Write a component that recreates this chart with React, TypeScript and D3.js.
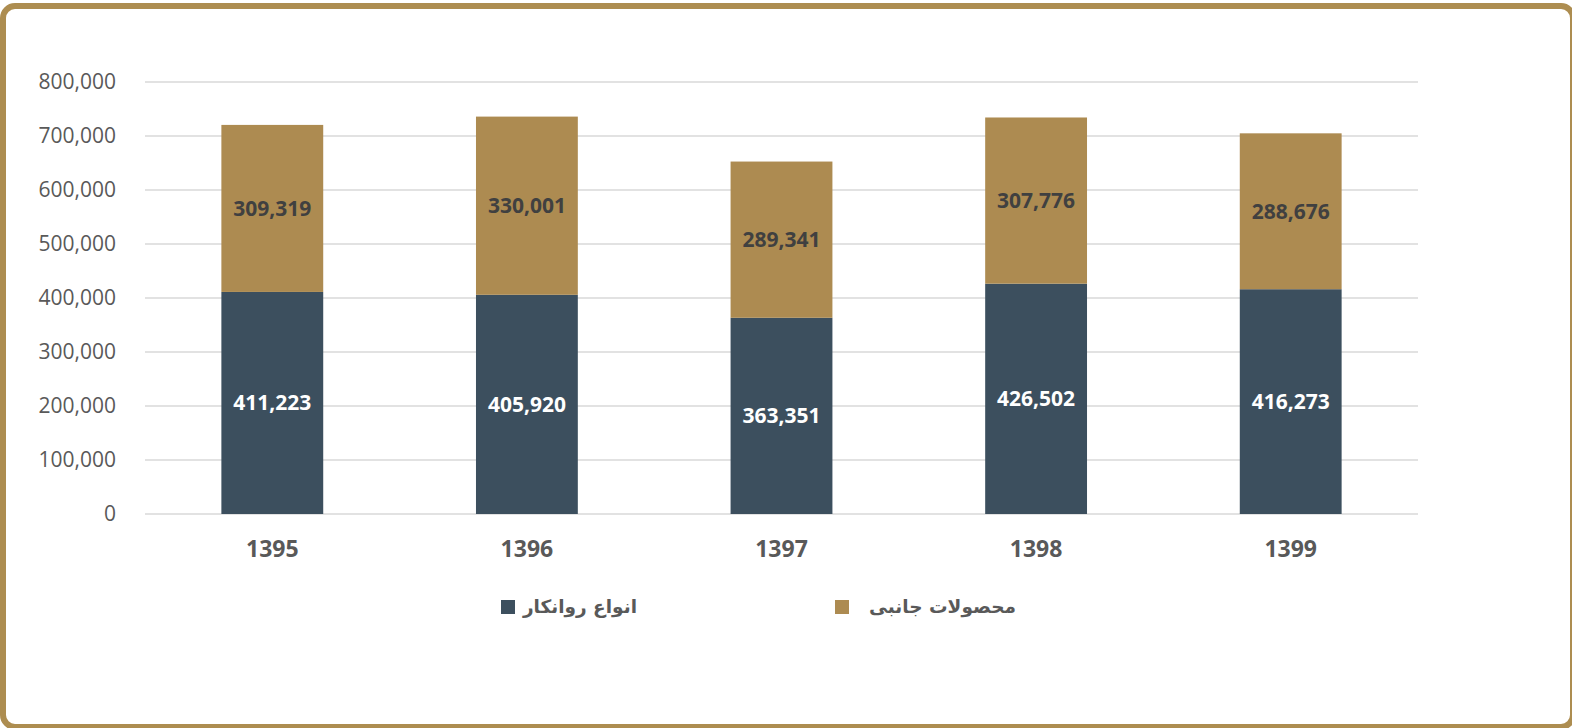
import React from "react";
import * as d3 from "d3";

const categories = ["1395", "1396", "1397", "1398", "1399"];
const lubricants = [411223, 405920, 363351, 426502, 416273];
const byproducts = [309319, 330001, 289341, 307776, 288676];
const yTicks = [0, 100000, 200000, 300000, 400000, 500000, 600000, 700000, 800000];
const seriesNames = ["انواع روانکار", "محصولات جانبی"];

const W = 1572;
const H = 728;
const DARK = "#3C4F5E";
const GOLD = "#AD8B51";
const BORDER = "#AD8D50";

export default function App() {
  const x = d3.scaleBand<string>().domain(categories).range([145, 1418]).paddingInner(0.6).paddingOuter(0.3);
  const y = d3.scaleLinear().domain([0, 800000]).range([514, 82]);
  const fmt = d3.format(",");
  const font = "'Open Sans', 'Segoe UI', sans-serif";
  return (
    <svg width={W} height={H} style={{ position: "absolute", left: 0, top: 0 }}>
      <rect x={0} y={0} width={W} height={H} fill="#ffffff" />
      <rect x={3} y={6} width={1570} height={721} rx={12} ry={12} fill="#ffffff" stroke={BORDER} strokeWidth={6} />
      {yTicks.map((t) => (
        <g key={t}>
          <line x1={145} x2={1418} y1={y(t)} y2={y(t)} stroke="#D9D9D9" strokeWidth={1.5} />
          <text x={116} y={y(t)} dy="0.35em" textAnchor="end" fontFamily={font} fontSize={21} fill="#595959">
            {fmt(t)}
          </text>
        </g>
      ))}
      {categories.map((c, i) => {
        const x0 = x(c)!;
        const bw = x.bandwidth();
        const a = lubricants[i];
        const b = byproducts[i];
        const cx = x0 + bw / 2;
        return (
          <g key={c}>
            <rect x={x0} y={y(a)} width={bw} height={y(0) - y(a)} fill={DARK} />
            <rect x={x0} y={y(a + b)} width={bw} height={y(a) - y(a + b)} fill={GOLD} />
            <text x={cx} y={(y(0) + y(a)) / 2} dy="0.35em" textAnchor="middle" fontFamily={font} fontWeight="bold" fontSize={21} fill="#ffffff">
              {fmt(a)}
            </text>
            <text x={cx} y={(y(a) + y(a + b)) / 2} dy="0.35em" textAnchor="middle" fontFamily={font} fontWeight="bold" fontSize={21} fill="#404040">
              {fmt(b)}
            </text>
            <text x={cx} y={549} dy="0.35em" textAnchor="middle" fontFamily={font} fontWeight="bold" fontSize={23} fill="#595959">
              {c}
            </text>
          </g>
        );
      })}
      <g>
        <rect x={501} y={600} width={14} height={14} fill={DARK} />
        <text x={637} y={607} dy="0.35em" textAnchor="end" fontFamily="'DejaVu Sans', sans-serif" fontWeight="bold" fontSize={18.5} fill="#595959">
          {seriesNames[0]}
        </text>
        <rect x={835} y={600} width={14} height={14} fill={GOLD} />
        <text x={1016} y={607} dy="0.35em" textAnchor="end" fontFamily="'DejaVu Sans', sans-serif" fontWeight="bold" fontSize={18.5} fill="#595959">
          {seriesNames[1]}
        </text>
      </g>
    </svg>
  );
}
